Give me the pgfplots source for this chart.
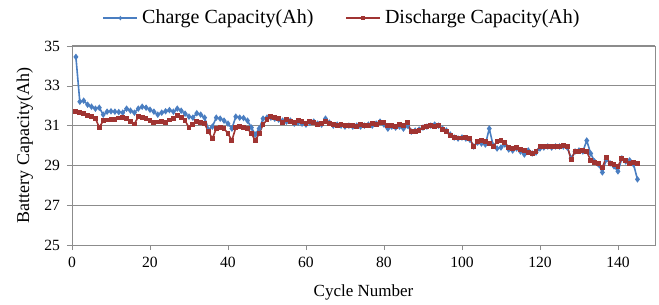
\documentclass[border=0pt]{standalone}
\usepackage{pgfplots}
\pgfplotsset{compat=1.18}
\usepackage{pgfplotstable}
\usepackage{fontspec}
\setmainfont{Liberation Serif}
\definecolor{cblue}{RGB}{74,126,193}
\definecolor{cred}{RGB}{160,52,50}
\definecolor{gridc}{RGB}{140,140,140}
\pgfplotstableread{
n C D
1 34.45 31.70
2 32.20 31.65
3 32.25 31.60
4 32.05 31.52
5 31.95 31.45
6 31.85 31.37
7 31.90 30.90
8 31.55 31.25
9 31.70 31.28
10 31.72 31.30
11 31.70 31.32
12 31.68 31.38
13 31.65 31.42
14 31.85 31.35
15 31.75 31.20
16 31.65 31.08
17 31.85 31.45
18 31.95 31.42
19 31.90 31.35
20 31.80 31.25
21 31.70 31.15
22 31.55 31.18
23 31.65 31.20
24 31.72 31.15
25 31.78 31.28
26 31.70 31.35
27 31.85 31.52
28 31.75 31.40
29 31.60 31.25
30 31.45 30.90
31 31.40 31.05
32 31.62 31.20
33 31.55 31.15
34 31.40 31.10
35 30.80 30.70
36 30.95 30.35
37 31.40 30.85
38 31.35 30.90
39 31.25 30.85
40 31.10 30.60
41 30.85 30.25
42 31.45 30.90
43 31.40 30.95
44 31.38 30.90
45 31.25 30.85
46 30.90 30.60
47 30.55 30.25
48 30.85 30.60
49 31.35 31.05
50 31.40 31.30
51 31.40 31.45
52 31.35 31.40
53 31.30 31.35
54 31.25 31.15
55 31.20 31.30
56 31.25 31.20
57 31.10 31.15
58 31.15 31.25
59 31.10 31.20
60 31.05 31.10
61 31.15 31.20
62 31.20 31.15
63 31.10 31.05
64 31.05 31.10
65 31.35 31.20
66 31.15 31.10
67 31.00 31.05
68 31.05 31.00
69 31.00 31.05
70 30.95 31.00
71 31.00 31.00
72 30.95 31.00
73 31.00 30.95
74 30.95 31.05
75 31.00 31.00
76 31.05 31.00
77 31.00 31.10
78 31.10 31.05
79 31.20 31.15
80 31.05 31.15
81 30.85 31.00
82 30.95 31.00
83 30.90 30.95
84 30.95 31.05
85 30.85 31.00
86 31.00 31.15
87 30.70 30.70
88 30.75 30.70
89 30.80 30.75
90 30.90 30.90
91 30.95 30.95
92 31.00 31.00
93 31.05 30.95
94 31.00 31.00
95 30.85 30.80
96 30.75 30.70
97 30.55 30.50
98 30.40 30.40
99 30.35 30.38
100 30.40 30.38
101 30.35 30.40
102 30.30 30.35
103 29.95 29.95
104 30.15 30.20
105 30.10 30.25
106 30.05 30.20
107 30.85 30.10
108 30.00 29.95
109 29.85 30.20
110 29.90 30.25
111 30.05 30.15
112 29.80 29.90
113 29.75 29.85
114 29.85 29.90
115 29.70 29.80
116 29.55 29.75
117 29.75 29.65
118 29.60 29.60
119 29.65 29.70
120 29.85 29.95
121 29.90 29.95
122 29.95 29.95
123 29.90 29.95
124 29.95 29.95
125 29.95 29.95
126 29.95 30.00
127 29.90 29.95
128 29.35 29.30
129 29.70 29.70
130 29.75 29.70
131 29.70 29.75
132 30.25 29.70
133 29.60 29.25
134 29.20 29.15
135 29.05 29.10
136 28.65 28.90
137 29.30 29.40
138 29.10 29.10
139 28.95 29.05
140 28.70 28.95
141 29.35 29.35
142 29.20 29.25
143 29.25 29.10
144 29.05 29.15
145 28.30 29.10
}\datatable
\begin{document}
\begin{tikzpicture}
\useasboundingbox (-36pt,-30pt) rectangle (293.5pt,122.5pt);
\begin{axis}[
  at={(0,0)}, anchor=south west,
  scale only axis, width=291.5pt, height=99.5pt,
  xmin=0, xmax=149.5, ymin=25, ymax=35,
  xtick={0,20,...,140}, ytick={25,27,...,35},
  axis line style={gridc},
  ymajorgrids, grid style={gridc, line width=0.5pt},
  tick align=outside, tick pos=left,
  major tick length=2.5pt,
  tick style={gridc},
  /pgf/number format/assume math mode=true,
  ticklabel style={font=\fontsize{7.8}{9}\selectfont},
  xlabel={Cycle Number},
  ylabel={Battery Capacity(Ah)},
  xlabel style={font=\fontsize{8.5}{10}\selectfont, at={(axis description cs:0.5,-0.24)}, anchor=center},
  ylabel style={font=\fontsize{9}{10}\selectfont, at={(axis description cs:-0.081,0.5)}, anchor=center},
  legend style={at={(axis description cs:0.465,1.14)}, anchor=center, draw=none,
    font=\fontsize{10}{12}\selectfont, legend columns=2,
    /tikz/every even column/.append style={column sep=14pt}},
  legend image post style={mark size=0.5pt},
  legend image code/.code={\draw[mark repeat=2,mark phase=2] plot coordinates {(0pt,0pt) (8.5pt,0pt) (17pt,0pt)};},
]
\addplot[cblue, line width=0.8pt, mark=diamond*, mark size=1.0pt, mark options={solid}] table[x=n,y=C] {\datatable};
\addlegendentry{Charge Capacity(Ah)}
\addplot[cred, line width=0.8pt, mark=square*, mark size=0.8pt, mark options={solid}] table[x=n,y=D] {\datatable};
\addlegendentry{Discharge Capacity(Ah)}
\end{axis}
\end{tikzpicture}
\end{document}
